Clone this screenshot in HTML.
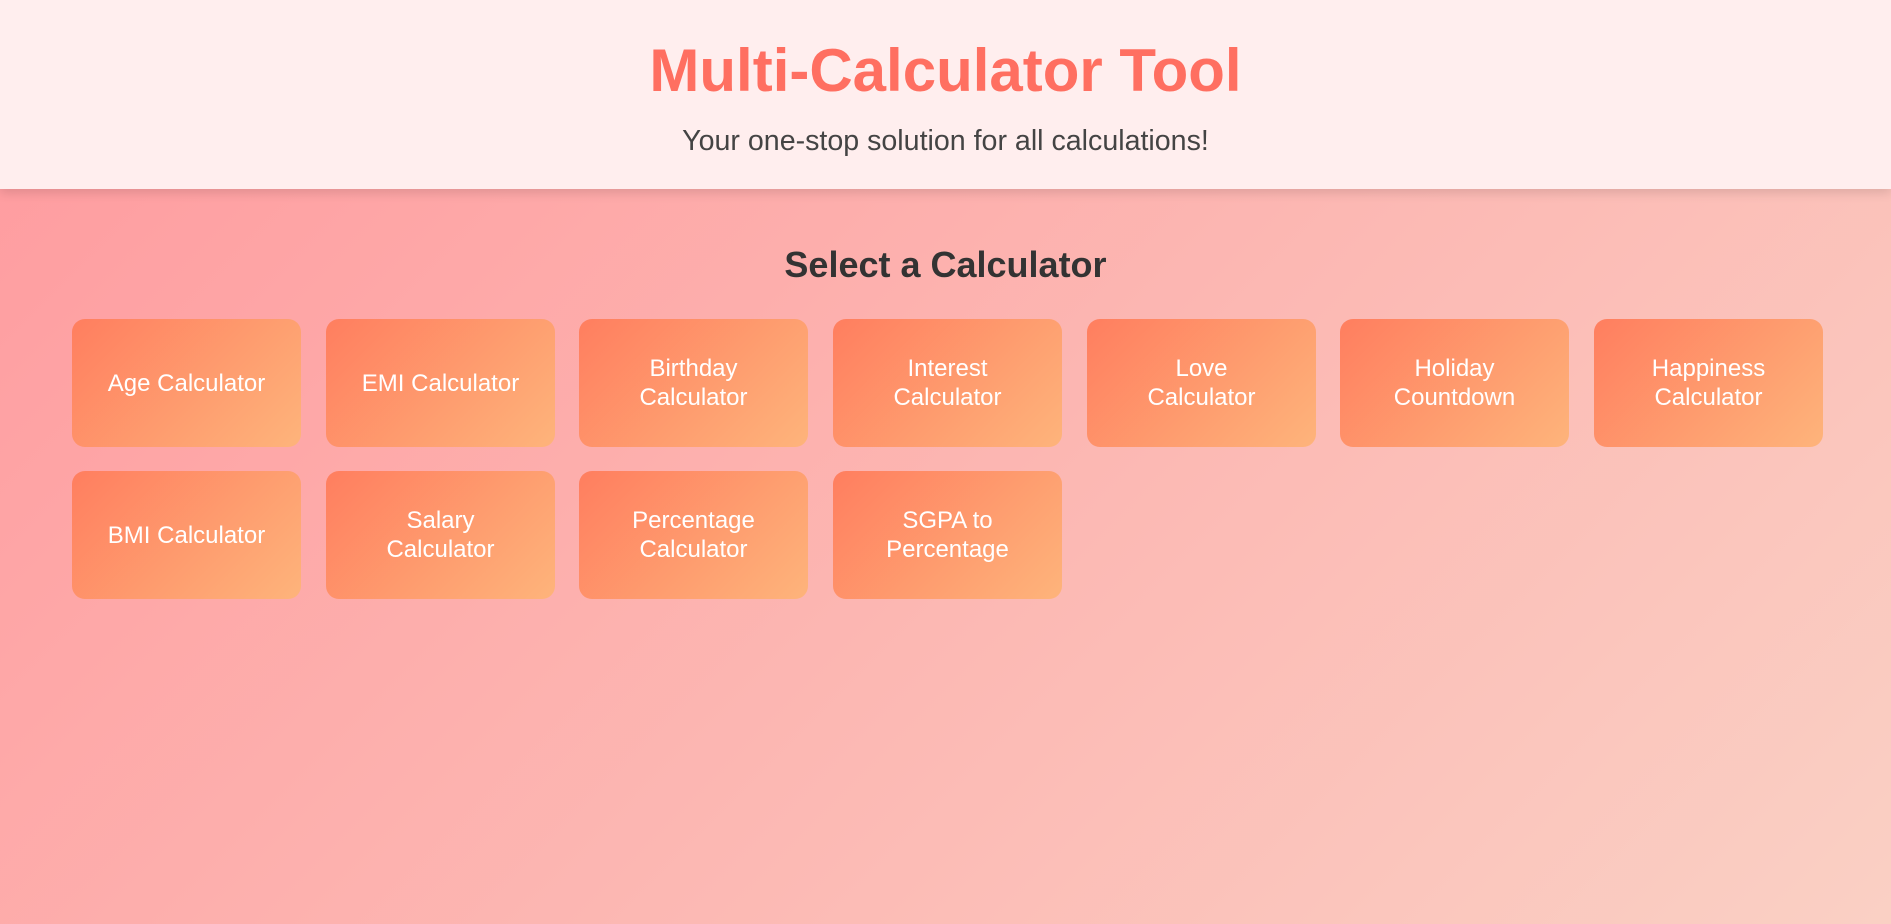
<!DOCTYPE html>
<html><head><meta charset="utf-8"><style>
*{margin:0;padding:0;box-sizing:border-box}
html,body{width:1891px;height:924px;overflow:hidden}
body{font-family:"Liberation Sans",Arial,sans-serif;background:linear-gradient(135deg,#ff9a9e 0%,#fad0c4 100%);position:relative}
header{position:absolute;left:0;top:0;width:1891px;height:189px;background:#ffeeee;box-shadow:0 4px 10px rgba(0,0,0,0.12);text-align:center}
h1{position:absolute;left:0;right:0;top:35px;font-size:60px;line-height:72px;color:#ff6f61;font-weight:bold}
.sub{position:absolute;left:0;right:0;top:124px;font-size:28.6px;line-height:34px;color:#444}
h2{position:absolute;left:0;right:0;top:244px;text-align:center;font-size:36px;line-height:42px;color:#333;font-weight:bold}
.b{position:absolute;width:229px;height:128px;border-radius:13px;background:linear-gradient(135deg,#ff7e5f,#feb47b);color:#fff;font-size:24px;line-height:29px;display:flex;align-items:center;justify-content:center;text-align:center}
</style></head><body>
<header><h1>Multi-Calculator Tool</h1><div class="sub">Your one-stop solution for all calculations!</div></header>
<h2>Select a Calculator</h2>
<div class="b" style="left:72px;top:319px">Age Calculator</div>
<div class="b" style="left:326px;top:319px">EMI Calculator</div>
<div class="b" style="left:579px;top:319px">Birthday<br>Calculator</div>
<div class="b" style="left:833px;top:319px">Interest<br>Calculator</div>
<div class="b" style="left:1087px;top:319px">Love<br>Calculator</div>
<div class="b" style="left:1340px;top:319px">Holiday<br>Countdown</div>
<div class="b" style="left:1594px;top:319px">Happiness<br>Calculator</div>
<div class="b" style="left:72px;top:471px">BMI Calculator</div>
<div class="b" style="left:326px;top:471px">Salary<br>Calculator</div>
<div class="b" style="left:579px;top:471px">Percentage<br>Calculator</div>
<div class="b" style="left:833px;top:471px">SGPA to<br>Percentage</div>
</body></html>
